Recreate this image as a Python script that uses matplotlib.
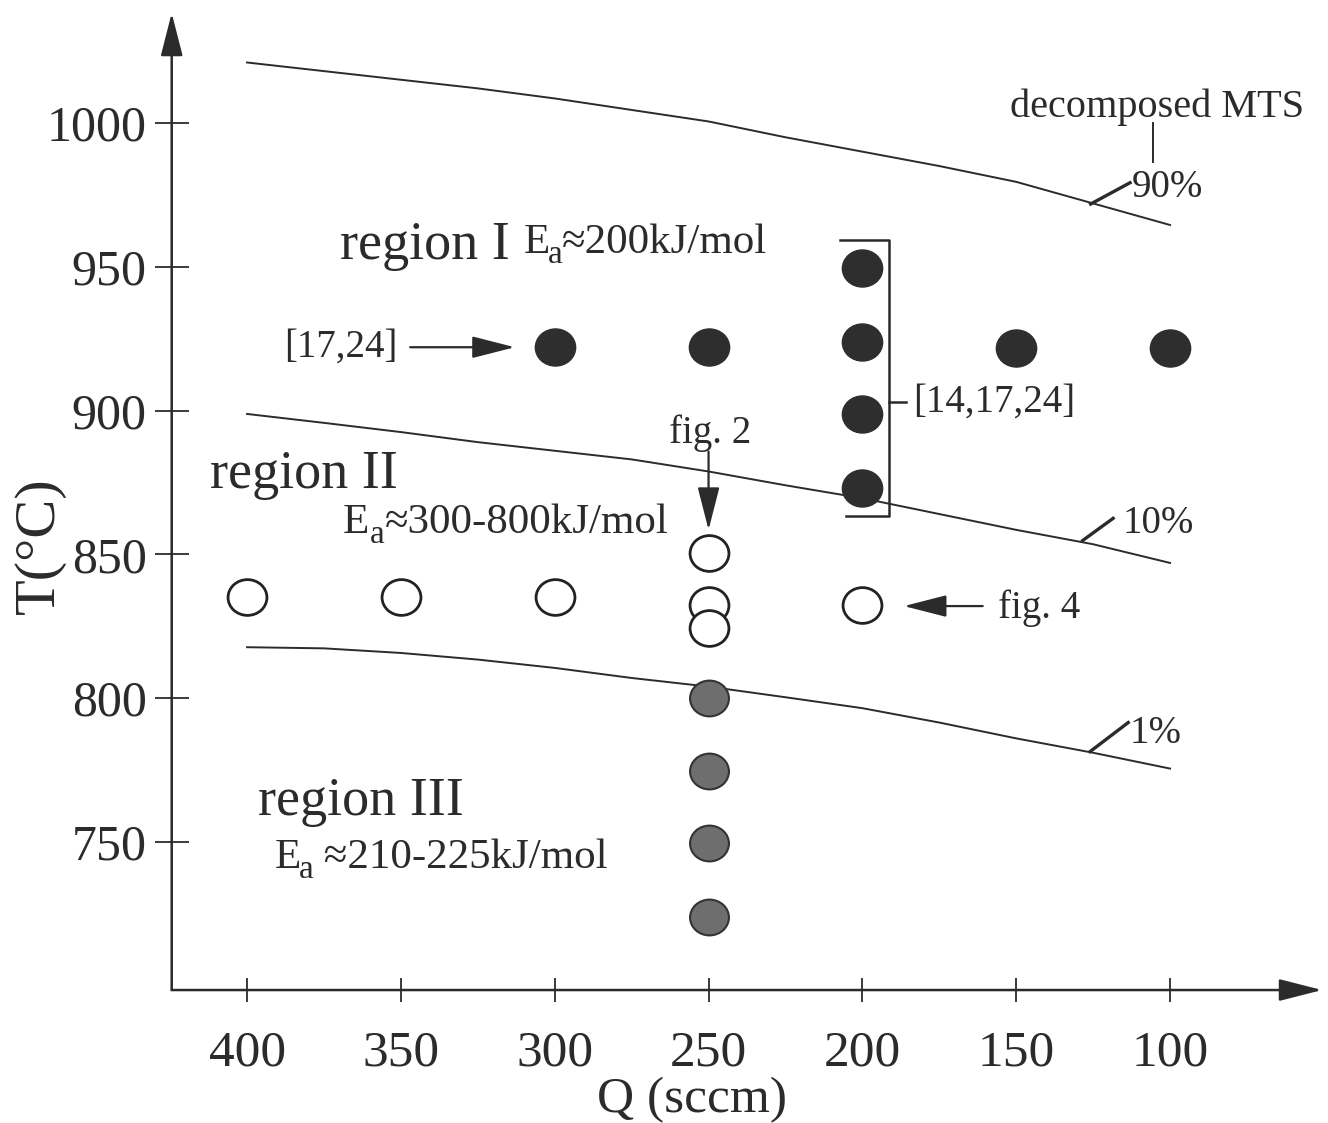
import numpy as np
import matplotlib.pyplot as plt
from matplotlib.path import Path

plt.rcParams['font.family'] = ['Liberation Serif', 'DejaVu Serif']

# axis ticks
q_ticks = [400, 350, 300, 250, 200, 150, 100]
t_ticks = [750, 800, 850, 900, 950, 1000]

# iso-conversion curves of decomposed MTS
flow_curve = [400, 375, 350, 325, 300, 275, 250, 225, 200, 175, 150, 125, 100]
t_90 = [1021, 1018, 1015, 1012, 1008.5, 1004.5, 1000.5, 995, 990, 985, 979.5, 972, 964.5]
t_10 = [898.8, 895.7, 892.5, 889, 886, 883, 878.8, 874, 869.5, 864, 858.5, 853.5, 847]
t_1 = [817.7, 817.3, 815.7, 813.4, 810.5, 807, 804, 800.3, 796.5, 791.5, 786, 781, 775.5]

# experiments
region_i_q = [300, 250, 200, 200, 200, 200, 150, 100]
region_i_t = [922, 922, 949.6, 923.9, 898.8, 873.1, 921.8, 921.8]
region_ii_q = [400, 350, 300, 250, 250, 250, 200]
region_ii_t = [835.2, 835, 835, 850.5, 832.5, 824.5, 832.4]
region_iii_q = [250, 250, 250, 250]
region_iii_t = [800, 774.8, 749.5, 724]

ink = '#2b2b2b'

fig = plt.figure(figsize=(13.28, 11.23), dpi=100)
ax = fig.add_axes([0.1293, 0.1184, 0.8662, 0.87])
ax.set_xlim(424.5, 50.6)
ax.set_ylim(698.5, 1038.2)
for s in ax.spines.values():
    s.set_visible(False)

ax.set_xticks(q_ticks)
ax.set_yticks(t_ticks)
ax.tick_params(axis='y', direction='inout', length=24, width=1.3, pad=6,
               labelsize=36, colors=ink)
ax.tick_params(axis='x', direction='inout', length=17, width=1.3, pad=20,
               labelsize=37, colors=ink)


def arrow(xy, xytext, coords='data', lw=1.6):
    ax.annotate('', xy=xy, xytext=xytext, xycoords=coords, textcoords=coords,
                arrowprops=dict(arrowstyle='-|>,head_length=1.33,head_width=0.34',
                                mutation_scale=20, lw=lw, color=ink,
                                shrinkA=0, shrinkB=0), annotation_clip=False)


def ea_label(q, t, rest, a_dx):
    # "E" with a large, dropped subscript "a", then the rest of the text
    ax.text(q, t, 'E', fontsize=31, color=ink, ha='left', va='baseline')
    ax.annotate('a', xy=(q, t), xytext=(a_dx, -7), textcoords='offset points',
                fontsize=24, color=ink, ha='left', va='baseline')
    ax.annotate(rest, xy=(q, t), xytext=(a_dx + 10.5, 0), textcoords='offset points',
                fontsize=31, color=ink, ha='left', va='baseline')


# axes with arrow heads
arrow((1, 0), (0, 0), coords='axes fraction', lw=1.8)
arrow((0, 1), (0, 0), coords='axes fraction', lw=1.8)

# curves
for t in (t_90, t_10, t_1):
    ax.plot(flow_curve, t, color=ink, lw=1.4, zorder=2)

# slightly flattened circles
circ = Path.unit_circle()
oval = Path(circ.vertices * [1.0, 0.92], circ.codes)
ax.plot(region_i_q, region_i_t, ls='none', marker=oval, ms=29,
        mfc='#2e2e2e', mec='#2e2e2e', zorder=3)
ax.plot(region_ii_q, region_ii_t, ls='none', marker=oval, ms=28,
        mfc='white', mec='#222222', mew=2, zorder=3)
ax.plot(region_iii_q, region_iii_t, ls='none', marker=oval, ms=28,
        mfc='#6e6e6e', mec='#333333', mew=1.5, zorder=3)

# bracket around the Q=200 series
ax.plot([207.3, 191.2, 191.2, 205.3], [959.3, 959.3, 863.4, 863.4], color=ink, lw=1.8)
ax.plot([191.2, 185.8], [903, 903], color=ink, lw=1.8)
ax.text(183.5, 903, '[14,17,24]', fontsize=28, color=ink, ha='left', va='center')

# reference arrows
ax.text(351, 922, '[17,24]', fontsize=28, color=ink, ha='right', va='center')
arrow((313, 922), (347, 922))
ax.text(249.5, 888.6, 'fig. 2', fontsize=28, color=ink, ha='center', va='baseline')
arrow((250, 858.5), (250, 885.7))
ax.text(156, 827.8, 'fig. 4', fontsize=28, color=ink, ha='left', va='baseline')
arrow((186.5, 832), (160.9, 832))

# decomposition labels
ax.text(104.1, 1002.2, 'decomposed MTS', fontsize=29, color=ink, ha='center', va='baseline')
ax.plot([105.5, 105.5], [999.9, 986.5], color=ink, lw=1.4)
ax.plot([125.8, 113.0], [971.8, 979.2], color=ink, lw=2.4)
ax.text(112.5, 974.4, '90%', fontsize=28, color=ink, ha='left', va='baseline')
ax.plot([128.4, 118.5], [854.8, 862.5], color=ink, lw=2.4)
ax.text(115.5, 857.5, '10%', fontsize=28, color=ink, ha='left', va='baseline')
ax.plot([126.0, 113.6], [781.4, 791.5], color=ink, lw=2.4)
ax.text(113.0, 784.3, '1%', fontsize=28, color=ink, ha='left', va='baseline')

# regions
ax.text(369.8, 952.6, 'region I', fontsize=39, color=ink, ha='left', va='baseline')
ea_label(310, 954.7, '≈200kJ/mol', 17)
ax.text(412, 873, 'region II', fontsize=39, color=ink, ha='left', va='baseline')
ea_label(369, 857.4, '≈300-800kJ/mol', 20)
ax.text(396.4, 759.4, 'region III', fontsize=39, color=ink, ha='left', va='baseline')
ea_label(390.9, 740.9, ' ≈210-225kJ/mol', 17)

# axis labels
ax.text(0.452, -0.112, 'Q (sccm)', transform=ax.transAxes, fontsize=37, color=ink,
        ha='center', va='center')
ax.text(-0.1145, 0.455, 'T(°C)', transform=ax.transAxes, fontsize=42, color=ink,
        ha='center', va='center', rotation=90)

fig.savefig('out.png', dpi=100)
